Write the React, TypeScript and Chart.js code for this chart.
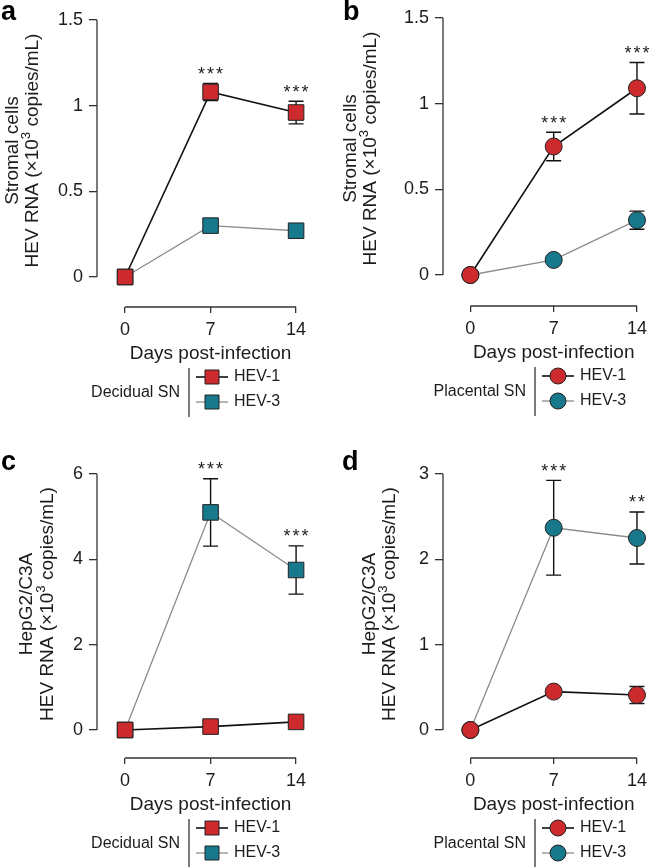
import React, { useEffect, useRef } from "react";
import { Chart, registerables } from "chart.js";

Chart.register(...registerables);

// ---------- data ----------
const days = [0, 7, 14];
const xTicks = [0, 7, 14];

// Panel a: stromal cells, decidual SN
const aHev1 = [0, 1.08, 0.96];
const aHev1Err = [0, 0.05, 0.066];
const aHev3 = [0, 0.3, 0.27];
const aHev3Err = [0, 0.015, 0.015];
const aTicks = [0, 0.5, 1, 1.5];
const aStars = ["", "***", "***"];

// Panel b: stromal cells, placental SN
const bHev1 = [0, 0.75, 1.09];
const bHev1Err = [0, 0.083, 0.15];
const bHev3 = [0, 0.088, 0.32];
const bHev3Err = [0, 0.01, 0.053];
const bTicks = [0, 0.5, 1, 1.5];
const bStars = ["", "***", "***"];

// Panel c: HepG2/C3A, decidual SN
const cHev1 = [0, 0.08, 0.19];
const cHev1Err = [0, 0.04, 0.05];
const cHev3 = [0, 5.1, 3.75];
const cHev3Err = [0, 0.79, 0.565];
const cTicks = [0, 2, 4, 6];
const cStars = ["", "***", "***"];

// Panel d: HepG2/C3A, placental SN
const dHev1 = [0, 0.45, 0.41];
const dHev1Err = [0, 0.03, 0.1];
const dHev3 = [0, 2.37, 2.25];
const dHev3Err = [0, 0.555, 0.305];
const dTicks = [0, 1, 2, 3];
const dStars = ["", "***", "**"];

const seriesNames = ["HEV-1", "HEV-3"];

// ---------- styles ----------
const FONT = '"Liberation Sans", Arial, Helvetica, sans-serif';
const RED = "#cc2a2c";
const TEAL = "#18788c";
const INK = "#1c1c1c";
const AXIS = "#333333";
const LINE1 = "#111111";
const LINE3 = "#8c8c8c";

const X_MIN = -2.3;
const X_MAX = 14.8;
const PX_PER_DAY = 12.214;

type Panel = {
  letter: string;
  group: string;
  shape: "rect" | "circle";
  ylab1: string;
  hev1: number[];
  hev1Err: number[];
  hev3: number[];
  hev3Err: number[];
  yTicks: number[];
  stars: string[];
  left: number;
  top: number;
  w: number;
  h: number;
  axisX: number;
  topPx: number;
  zeroPx: number;
  axisY: number;
  t2x: number;
  letterX: number;
};

const PANELS: Panel[] = [
  { letter: "a", group: "Decidual SN", shape: "rect", ylab1: "Stromal cells", hev1: aHev1, hev1Err: aHev1Err, hev3: aHev3, hev3Err: aHev3Err, yTicks: aTicks, stars: aStars, left: 0, top: 0, w: 320, h: 450, axisX: 97, topPx: 20, zeroPx: 277, axisY: 307, t2x: 33, letterX: 1 },
  { letter: "b", group: "Placental SN", shape: "circle", ylab1: "Stromal cells", hev1: bHev1, hev1Err: bHev1Err, hev3: bHev3, hev3Err: bHev3Err, yTicks: bTicks, stars: bStars, left: 336, top: 0, w: 320, h: 450, axisX: 107, topPx: 18, zeroPx: 275, axisY: 306, t2x: 35, letterX: 7 },
  { letter: "c", group: "Decidual SN", shape: "rect", ylab1: "HepG2/C3A", hev1: cHev1, hev1Err: cHev1Err, hev3: cHev3, hev3Err: cHev3Err, yTicks: cTicks, stars: cStars, left: 0, top: 450, w: 320, h: 417, axisX: 97, topPx: 24, zeroPx: 280, axisY: 308, t2x: 47.5, letterX: 1 },
  { letter: "d", group: "Placental SN", shape: "circle", ylab1: "HepG2/C3A", hev1: dHev1, hev1Err: dHev1Err, hev3: dHev3, hev3Err: dHev3Err, yTicks: dTicks, stars: dStars, left: 336, top: 450, w: 320, h: 417, axisX: 107, topPx: 24, zeroPx: 280, axisY: 308, t2x: 54, letterX: 6 },
];

function drawMarker(ctx: CanvasRenderingContext2D, shape: string, x: number, y: number, size: number, fill: string) {
  ctx.save();
  ctx.fillStyle = fill;
  ctx.strokeStyle = "#222";
  ctx.lineWidth = 1;
  ctx.beginPath();
  if (shape === "rect") {
    ctx.rect(x - size / 2, y - size / 2, size, size);
  } else {
    ctx.arc(x, y, size / 2, 0, Math.PI * 2);
  }
  ctx.fill();
  ctx.stroke();
  ctx.restore();
}

function PanelChart({ p }: { p: Panel }) {
  const ref = useRef<HTMLCanvasElement | null>(null);
  useEffect(() => {
    const canvas = ref.current;
    if (!canvas) return;
    const yMax = p.yTicks[p.yTicks.length - 1];
    const yMin = (-yMax * (p.axisY - p.zeroPx)) / (p.zeroPx - p.topPx);
    const plotW = (X_MAX - X_MIN) * PX_PER_DAY;
    const padRight = p.w - p.axisX - plotW;
    const series = [
      { vals: p.hev1, err: p.hev1Err, color: RED, line: LINE1, width: 1.6 },
      { vals: p.hev3, err: p.hev3Err, color: TEAL, line: LINE3, width: 1.3 },
    ];
    const markerHalf = 8;

    const deco = {
      id: "deco",
      beforeDatasetsDraw(chart: any) {
        const { ctx, chartArea, scales } = chart;
        const x = scales.x;
        const y = scales.y;
        ctx.save();
        ctx.strokeStyle = AXIS;
        ctx.lineWidth = 1.3;
        ctx.beginPath();
        ctx.moveTo(chartArea.left, y.getPixelForValue(0));
        ctx.lineTo(chartArea.left, y.getPixelForValue(yMax));
        ctx.stroke();
        ctx.beginPath();
        ctx.moveTo(x.getPixelForValue(xTicks[0]), chartArea.bottom);
        ctx.lineTo(x.getPixelForValue(xTicks[xTicks.length - 1]), chartArea.bottom);
        ctx.stroke();
        // error bars
        ctx.strokeStyle = "#111";
        ctx.lineWidth = 1.4;
        series.forEach((s) => {
          days.forEach((d, i) => {
            if (!s.err[i]) return;
            const px = x.getPixelForValue(d);
            const y1 = y.getPixelForValue(s.vals[i] + s.err[i]);
            const y2 = y.getPixelForValue(s.vals[i] - s.err[i]);
            ctx.beginPath();
            ctx.moveTo(px, y1);
            ctx.lineTo(px, y2);
            ctx.moveTo(px - 7.5, y1);
            ctx.lineTo(px + 7.5, y1);
            ctx.moveTo(px - 7.5, y2);
            ctx.lineTo(px + 7.5, y2);
            ctx.stroke();
          });
        });
        ctx.restore();
      },
      afterDatasetsDraw(chart: any) {
        const { ctx, scales } = chart;
        const x = scales.x;
        const y = scales.y;
        ctx.save();
        const fs = 18;
        ctx.font = `${fs}px ${FONT}`;
        ctx.fillStyle = INK;
        ctx.textAlign = "center";
        ctx.textBaseline = "alphabetic";
        days.forEach((d, i) => {
          const st = p.stars[i];
          if (!st) return;
          const px = x.getPixelForValue(d);
          let top = Infinity;
          series.forEach((s) => {
            top = Math.min(top, y.getPixelForValue(s.vals[i] + s.err[i]), y.getPixelForValue(s.vals[i]) - markerHalf);
          });
          const cy = top - 14;
          const n = st.length;
          for (let k = 0; k < n; k++) {
            ctx.fillText("*", px + (k - (n - 1) / 2) * 9, cy + 0.575 * fs);
          }
        });
        ctx.restore();
      },
      afterDraw(chart: any) {
        const { ctx, scales, chartArea } = chart;
        const x = scales.x;
        const y = scales.y;
        ctx.save();
        // panel letter
        ctx.fillStyle = "#000";
        ctx.font = `bold 27px ${FONT}`;
        ctx.textAlign = "left";
        ctx.textBaseline = "alphabetic";
        ctx.fillText(p.letter, p.letterX, 20);

        // y title
        const tfs = 19;
        const cy = (y.getPixelForValue(0) + y.getPixelForValue(yMax)) / 2 + 2;
        const drawRot = (cx: number, segs: { t: string; sup?: boolean }[]) => {
          ctx.save();
          ctx.translate(cx, cy);
          ctx.rotate(-Math.PI / 2);
          ctx.fillStyle = INK;
          ctx.textBaseline = "middle";
          ctx.textAlign = "left";
          let total = 0;
          const widths = segs.map((s) => {
            ctx.font = `${s.sup ? tfs * 0.7 : tfs}px ${FONT}`;
            const w = ctx.measureText(s.t).width;
            total += w;
            return w;
          });
          let pos = -total / 2;
          segs.forEach((s, i) => {
            ctx.font = `${s.sup ? tfs * 0.7 : tfs}px ${FONT}`;
            ctx.fillText(s.t, pos, s.sup ? -tfs * 0.33 : 0);
            pos += widths[i];
          });
          ctx.restore();
        };
        drawRot(p.t2x - 20.5, [{ t: p.ylab1 }]);
        drawRot(p.t2x, [{ t: "HEV RNA (×10" }, { t: "3", sup: true }, { t: " copies/mL)" }]);

        // x title
        ctx.font = `${tfs}px ${FONT}`;
        ctx.fillStyle = INK;
        ctx.textAlign = "center";
        ctx.textBaseline = "alphabetic";
        ctx.fillText("Days post-infection", x.getPixelForValue(7), chartArea.bottom + 52);

        // legend
        const lx = chartArea.left;
        const ly = chartArea.bottom;
        ctx.font = `16px ${FONT}`;
        ctx.textAlign = "right";
        ctx.textBaseline = "middle";
        ctx.fillText(p.group, lx + 83, ly + 86);
        ctx.strokeStyle = AXIS;
        ctx.lineWidth = 1.3;
        ctx.beginPath();
        ctx.moveTo(lx + 92, ly + 61);
        ctx.lineTo(lx + 92, ly + 110);
        ctx.stroke();
        const rows = [ly + 70, ly + 95];
        series.forEach((s, i) => {
          const ry = rows[i];
          ctx.strokeStyle = s.line;
          ctx.lineWidth = s.width;
          ctx.beginPath();
          ctx.moveTo(lx + 99, ry);
          ctx.lineTo(lx + 131, ry);
          ctx.stroke();
          drawMarker(ctx, p.shape, lx + 115, ry, p.shape === "rect" ? 14 : 16, s.color);
          ctx.fillStyle = INK;
          ctx.textAlign = "left";
          ctx.textBaseline = "middle";
          ctx.font = `16px ${FONT}`;
          ctx.fillText(seriesNames[i], lx + 137, ry);
        });
        ctx.restore();
      },
    };

    const mk = (i: number) => {
      const s = series[i];
      return {
        label: seriesNames[i],
        data: days.map((d, k) => ({ x: d, y: s.vals[k] })),
        borderColor: s.line,
        borderWidth: s.width,
        pointStyle: p.shape,
        pointRadius: p.shape === "rect" ? 11 : 8.5,
        pointBackgroundColor: s.color,
        pointBorderColor: "#222",
        pointBorderWidth: 1,
        tension: 0,
        clip: false as any,
      };
    };

    const tickFont = { family: FONT, size: 18 };
    const chart = new Chart(canvas, {
      type: "line",
      data: { datasets: [mk(0), mk(1)] },
      options: {
        responsive: false,
        animation: false,
        devicePixelRatio: 1,
        events: [],
        layout: { padding: { left: 0, top: p.topPx, right: padRight, bottom: 0 } },
        plugins: { legend: { display: false }, tooltip: { enabled: false }, title: { display: false } },
        scales: {
          x: {
            type: "linear",
            min: X_MIN,
            max: X_MAX,
            afterBuildTicks: (s: any) => {
              s.ticks = xTicks.map((v) => ({ value: v }));
            },
            afterFit: (s: any) => {
              s.height = p.h - p.axisY;
            },
            border: { display: false },
            grid: { drawOnChartArea: false, drawTicks: true, tickLength: 6, color: AXIS, lineWidth: 1.3 },
            ticks: { font: tickFont, color: INK, padding: 6, maxRotation: 0, autoSkip: false, callback: (v: any) => String(v) },
          },
          y: {
            type: "linear",
            min: yMin,
            max: yMax,
            afterBuildTicks: (s: any) => {
              s.ticks = p.yTicks.map((v) => ({ value: v }));
            },
            afterFit: (s: any) => {
              s.width = p.axisX;
            },
            border: { display: false },
            grid: { drawOnChartArea: false, drawTicks: true, tickLength: 8, color: AXIS, lineWidth: 1.3 },
            ticks: { font: tickFont, color: INK, padding: 6, autoSkip: false, callback: (v: any) => String(v) },
          },
        },
      } as any,
      plugins: [deco],
    });
    return () => chart.destroy();
  }, [p]);

  return (
    <canvas
      ref={ref}
      width={p.w}
      height={p.h}
      style={{ position: "absolute", left: p.left, top: p.top, width: p.w, height: p.h }}
    />
  );
}

export default function App() {
  return (
    <div style={{ position: "absolute", left: 0, top: 0, width: 656, height: 867, background: "#fff", overflow: "hidden" }}>
      {PANELS.map((p) => (
        <PanelChart key={p.letter} p={p} />
      ))}
    </div>
  );
}
